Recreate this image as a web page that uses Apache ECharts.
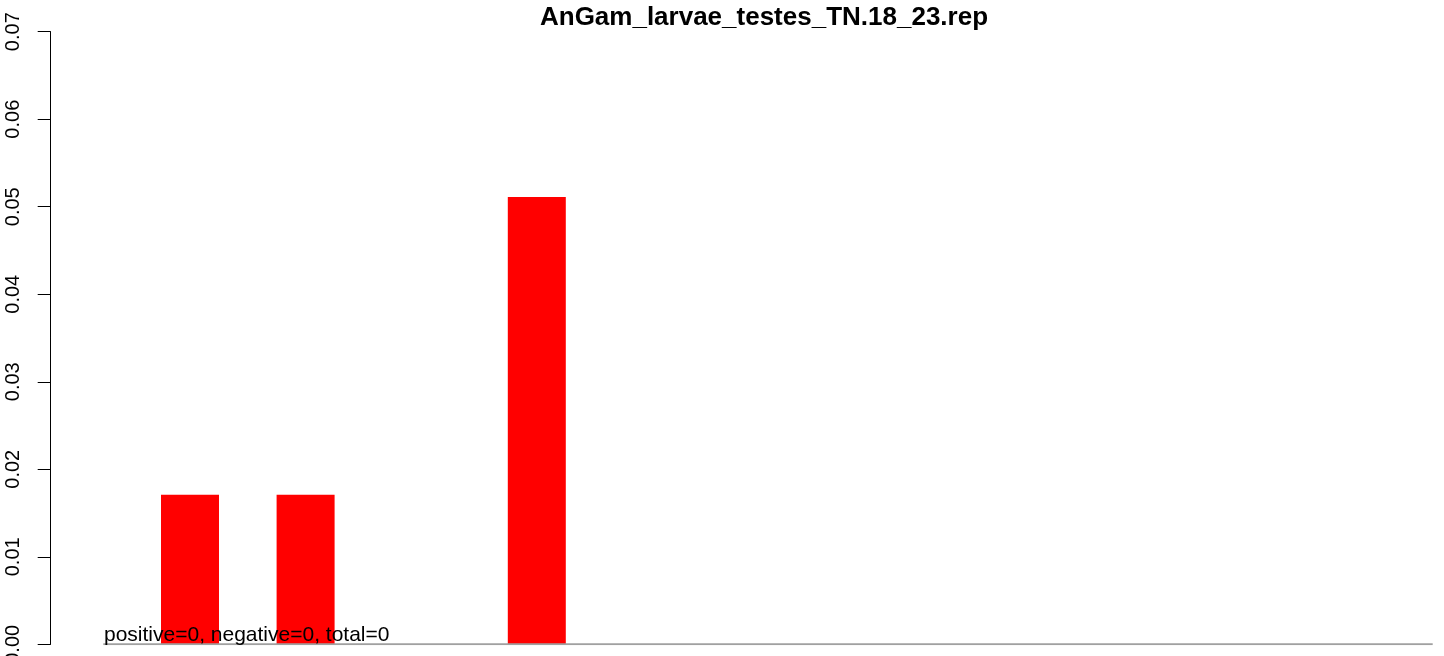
<!DOCTYPE html>
<html>
<head>
<meta charset="utf-8">
<script src="https://cdn.jsdelivr.net/npm/echarts@6/dist/echarts.min.js"></script>
<style>html,body{margin:0;padding:0;background:#fff}#c{width:1444px;height:656px}</style>
</head>
<body>
<div id="c"></div>
<script>
var titleText = 'AnGam_larvae_testes_TN.18_23.rep';
var categories = ['1','2','3','4','5','6','7','8','9','10','11'];
var values = [0.0171, 0.0171, 0, 0.0511, 0, 0, 0, 0, 0, 0, 0];
var yTicks = [0, 0.01, 0.02, 0.03, 0.04, 0.05, 0.06, 0.07];
var note = 'positive=0, negative=0, total=0';

var barData = [];
for (var i = 0; i < categories.length; i++) {
  if (values[i] > 0) barData.push([i, values[i]]);
}
var FONT = 'Liberation Sans, Arial, Helvetica, sans-serif';
var chart = echarts.init(document.getElementById('c'), null, {renderer: 'canvas'});
chart.setOption({
  animation: false,
  backgroundColor: '#ffffff',
  title: {
    text: titleText,
    left: 759, top: 0, textAlign: 'center',
    textStyle: {fontFamily: FONT, fontWeight: 'bold', fontSize: 26, color: '#000'}
  },
  grid: {left: 50.7, right: 11.3, top: 31.7, bottom: 11.7, containLabel: false, outerBoundsMode: 'none'},
  xAxis: {
    type: 'value', min: -1.205, max: 10.75,
    axisLine: {show: false}, axisTick: {show: false}, axisLabel: {show: false}, splitLine: {show: false}
  },
  yAxis: {
    type: 'value', min: yTicks[0], max: yTicks[yTicks.length - 1], interval: 0.01,
    axisLine: {show: true, onZero: false, lineStyle: {color: '#000', width: 1}},
    axisTick: {show: true, length: 13, lineStyle: {color: '#000', width: 1}},
    axisLabel: {
      show: true, rotate: 90, margin: 27, color: '#000', fontSize: 20,
      fontFamily: FONT, hideOverlap: false, showMinLabel: true, showMaxLabel: true,
      formatter: function (v) { return v.toFixed(2); }
    },
    splitLine: {show: false}
  },
  series: [
    {
      type: 'bar', data: barData, barWidth: 58,
      itemStyle: {color: '#ff0000'}, z: 2
    },
    {
      type: 'line', data: [[-0.75, 0], [categories.length - 0.25, 0]],
      symbol: 'none', lineStyle: {color: '#a0a0a0', width: 2}, z: 3
    }
  ],
  graphic: [{
    type: 'text', left: 104, top: 625, z: 100,
    style: {text: note, fill: '#000', fontSize: 21, fontFamily: FONT}
  }]
});
</script>
</body>
</html>
